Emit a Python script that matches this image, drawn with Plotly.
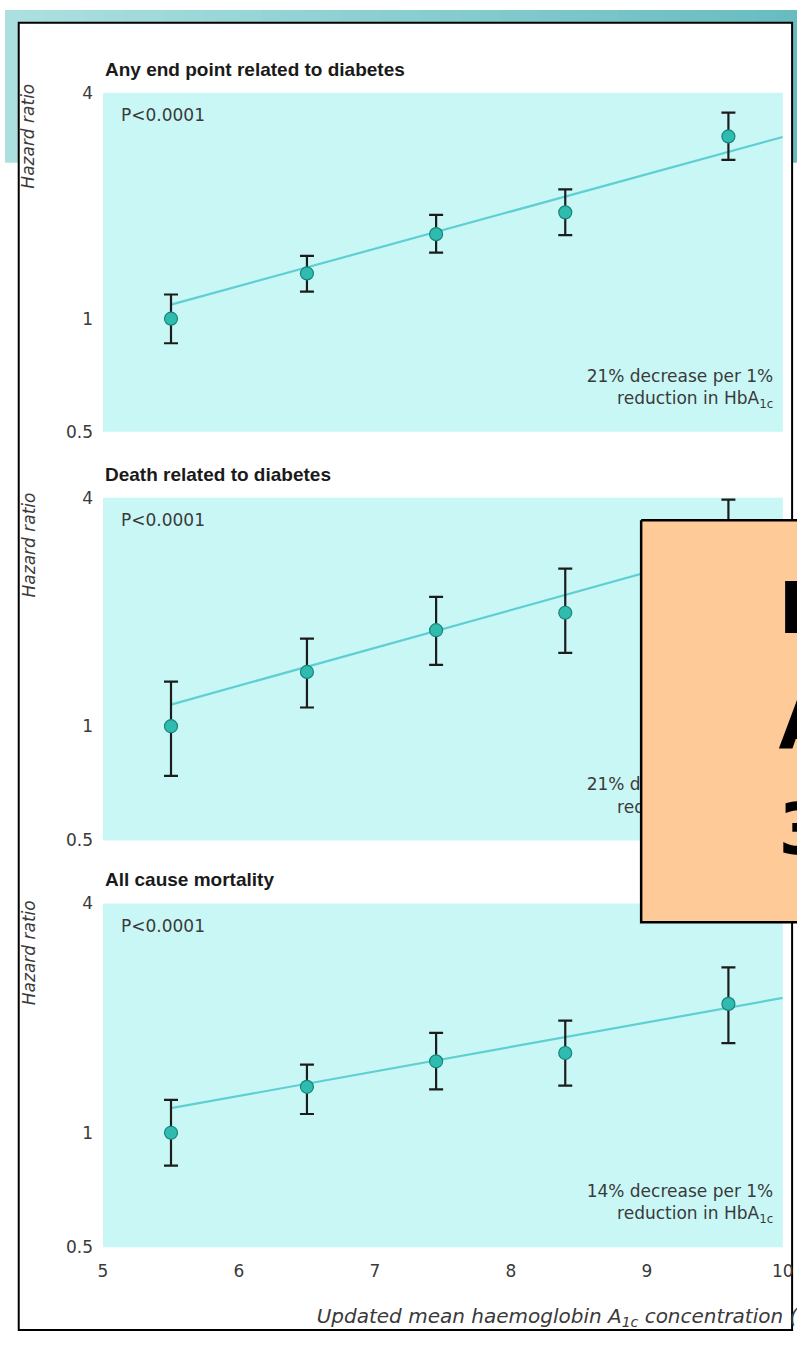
import plotly.graph_objects as go

W, H = 808, 1347

# ---------------- data ----------------
hba1c = [5.5, 6.5, 7.45, 8.4, 9.6]
panel_titles = ["Any end point related to diabetes",
                "Death related to diabetes",
                "All cause mortality"]

hr_any = [1.00, 1.32, 1.68, 1.92, 3.06]
hr_any_lo = [0.86, 1.18, 1.50, 1.67, 2.65]
hr_any_hi = [1.16, 1.47, 1.89, 2.21, 3.54]

hr_death = [1.00, 1.39, 1.79, 1.99, 3.00]
hr_death_lo = [0.74, 1.12, 1.45, 1.56, 2.30]
hr_death_hi = [1.31, 1.70, 2.19, 2.60, 3.95]

hr_all = [1.00, 1.32, 1.54, 1.62, 2.18]
hr_all_lo = [0.82, 1.12, 1.30, 1.33, 1.72]
hr_all_hi = [1.22, 1.51, 1.83, 1.97, 2.72]

fit_x = [5.5, 10.0]
fit_any = [1.09, 3.05]
fit_death = [1.14, 3.20]
fit_all = [1.16, 2.26]

p_labels = ["P<0.0001", "P<0.0001", "P<0.0001"]
decrease_labels = ["21% decrease per 1%<br>reduction in HbA<sub>1c</sub>",
                   "21% decrease per 1%<br>reduction in HbA<sub>1c</sub>",
                   "14% decrease per 1%<br>reduction in HbA<sub>1c</sub>"]
y_tickvals = [0.5, 1, 4]
y_ticktext = ["0.5", "1", "4"]
x_tickvals = [5, 6, 7, 8, 9, 10]
x_ticktext = ["5", "6", "7", "8", "9", "10"]
x_title = "<i>Updated mean haemoglobin A<sub>1c</sub> concentration (%)</i>"
y_title = "<i>Hazard ratio</i>"
overlay_letters = ["H", "A", "3"]

series = [(hr_any, hr_any_lo, hr_any_hi, fit_any),
          (hr_death, hr_death_lo, hr_death_hi, fit_death),
          (hr_all, hr_all_lo, hr_all_hi, fit_all)]

# ---------------- layout geometry (pixels) ----------------
panel_top = [84, 495, 907]
panel_bot = [428, 843, 1256]
plot_left, plot_right = 100, 793.5
box_left, box_top, box_bot = 649, 518, 926
letter_x, letter_y = 789, [614, 731, 838]

CYAN = "#c9f7f6"
MARKER = "#2fbcae"
MARKER_EDGE = "#16857e"
FIT = "#5fcfd2"
TXT = "#3a3a3a"
REG = "DejaVu Sans, Liberation Sans, Arial, sans-serif"
BOLD = "Liberation Sans, Arial, sans-serif"

fig = go.Figure()

for i, (hr, lo, hi, fit) in enumerate(series):
    ax = "" if i == 0 else str(i + 1)
    xa, ya = "x" + ax, "y" + ax
    fig.add_trace(go.Scatter(
        x=fit_x, y=fit, xaxis=xa, yaxis=ya, mode="lines",
        line=dict(color=FIT, width=2.2), hoverinfo="skip", showlegend=False))
    fig.add_trace(go.Scatter(
        x=hba1c, y=hr, xaxis=xa, yaxis=ya, mode="markers",
        marker=dict(size=13, color=MARKER, line=dict(color=MARKER_EDGE, width=1.2)),
        error_y=dict(type="data", symmetric=False,
                     array=[h - c for h, c in zip(hi, hr)],
                     arrayminus=[c - l for c, l in zip(hr, lo)],
                     color="#1c1c1c", thickness=2.2, width=7),
        showlegend=False))
    fig.add_trace(go.Scatter(
        x=[9.93], y=[0.65], xaxis=xa, yaxis=ya, mode="text",
        text=[decrease_labels[i]], textposition="middle left",
        textfont=dict(family=REG, size=17, color=TXT),
        hoverinfo="skip", showlegend=False))

# overlay subplot in pixel units (clips at the figure edge)
fig.add_trace(go.Scatter(
    x=[box_left, W + 50, W + 50, box_left, box_left],
    y=[box_top, box_top, box_bot, box_bot, box_top],
    xaxis="x4", yaxis="y4", mode="lines", fill="toself",
    fillcolor="#fecb98", line=dict(color="black", width=2.5),
    hoverinfo="skip", showlegend=False))
fig.add_trace(go.Scatter(
    x=[letter_x] * 3, y=letter_y, xaxis="x4", yaxis="y4", mode="text",
    text=overlay_letters, textposition="middle right", cliponaxis=True,
    textfont=dict(family="DejaVu Sans, sans-serif", size=72, color="black",
                  weight="bold"),
    hoverinfo="skip", showlegend=False))
fig.add_trace(go.Scatter(
    x=[318], y=[1328], xaxis="x4", yaxis="y4", mode="text",
    text=[x_title], textposition="middle right", cliponaxis=True,
    textfont=dict(family=REG, size=20, color=TXT),
    hoverinfo="skip", showlegend=False))

layout = dict(
    width=W, height=H, autosize=False,
    margin=dict(l=0, r=0, t=0, b=0),
    paper_bgcolor="white", plot_bgcolor="rgba(0,0,0,0)",
    showlegend=False,
)
for i in range(3):
    ax = "" if i == 0 else str(i + 1)
    ydom = [1 - panel_bot[i] / H, 1 - panel_top[i] / H]
    layout["xaxis" + ax] = dict(
        domain=[plot_left / W, plot_right / W], range=[5, 10],
        anchor="y" + ax, showgrid=False, zeroline=False, showline=False,
        tickvals=x_tickvals, ticktext=x_ticktext, ticks="",
        showticklabels=(i == 2), ticklabelstandoff=12,
        tickfont=dict(family=REG, size=17, color=TXT))
    layout["yaxis" + ax] = dict(
        domain=ydom, type="log", range=[-0.30103, 0.60206],
        anchor="x" + ax, showgrid=False, zeroline=False, showline=False,
        tickvals=y_tickvals, ticktext=y_ticktext, ticks="",
        ticklabelstandoff=9,
        tickfont=dict(family=REG, size=17, color=TXT))
layout["xaxis4"] = dict(domain=[0, 1], range=[0, W], anchor="y4", visible=False,
                        fixedrange=True)
layout["yaxis4"] = dict(domain=[0, 1], range=[H, 0], anchor="x4", visible=False,
                        fixedrange=True)
fig.update_layout(**layout)

shapes = []
# teal gradient banner behind the white card
n = 40
c0, c1 = (172, 224, 224), (104, 188, 192)
for k in range(n):
    t = k / (n - 1)
    col = tuple(int(round(a + (b - a) * t)) for a, b in zip(c0, c1))
    shapes.append(dict(type="rect", xref="paper", yref="paper", layer="below",
                       x0=k / n, x1=min(1, (k + 1) / n + 0.002), y0=1 - 155 / H, y1=1,
                       fillcolor="rgb(%d,%d,%d)" % col, line=dict(width=0)))
# white card with black border
shapes.append(dict(type="rect", xref="paper", yref="paper", layer="below",
                   x0=14 / W, x1=803 / W, y0=1 - 1340 / H, y1=1 - 13 / H,
                   fillcolor="white", line=dict(color="black", width=2)))
# plot backgrounds
for i in range(3):
    ax = "" if i == 0 else str(i + 1)
    shapes.append(dict(type="rect", xref="x" + ax + " domain", yref="y" + ax + " domain",
                       layer="below", x0=0, x1=1, y0=0, y1=1,
                       fillcolor=CYAN, line=dict(width=0)))
fig.update_layout(shapes=shapes)

ann = []
hz_y = [0.872, 0.862, 0.857]
for i in range(3):
    ax = "" if i == 0 else str(i + 1)
    h = panel_bot[i] - panel_top[i]
    ann.append(dict(text="<b>" + panel_titles[i] + "</b>", xref="x" + ax + " domain",
                    yref="y" + ax + " domain", x=0.0, y=1 + 24 / h,
                    xanchor="left", yanchor="middle", showarrow=False,
                    font=dict(family=BOLD, size=19, color="#1a1a1a")))
    ann.append(dict(text=p_labels[i], xref="x" + ax + " domain",
                    yref="y" + ax + " domain", x=16 / 693.5, y=1 - 23 / h,
                    xanchor="left", yanchor="middle", showarrow=False,
                    font=dict(family=REG, size=17, color=TXT)))
    ann.append(dict(text=y_title, xref="paper", yref="y" + ax + " domain",
                    x=24 / W, y=hz_y[i], xanchor="center", yanchor="middle",
                    textangle=-90, showarrow=False,
                    font=dict(family=REG, size=17, color=TXT)))
fig.update_layout(annotations=ann)

fig.write_html("out.html")
